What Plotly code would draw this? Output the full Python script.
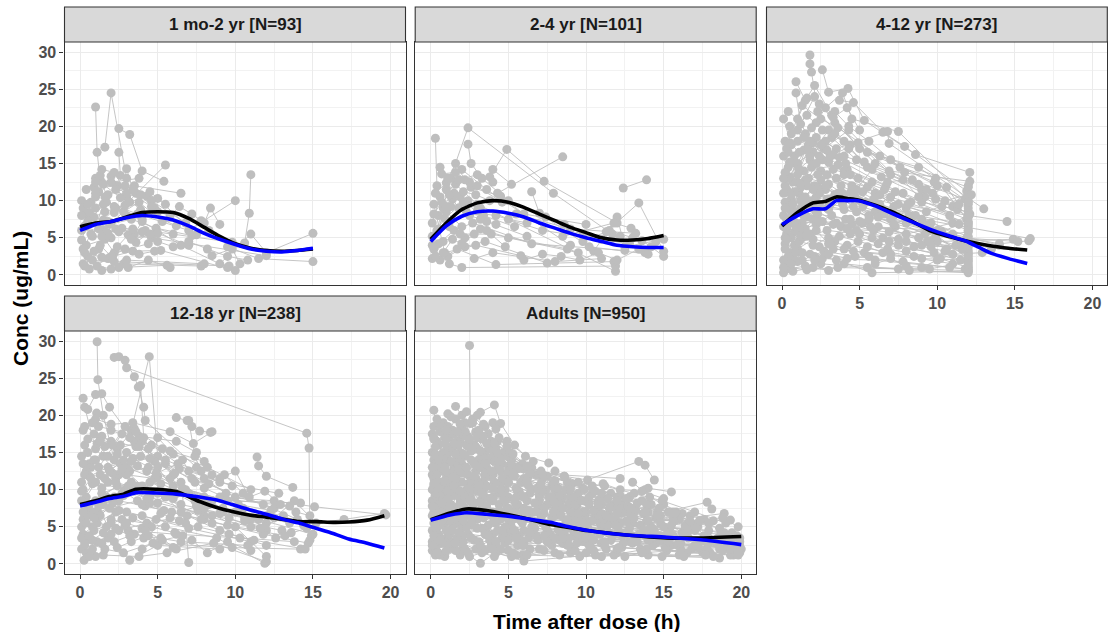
import plotly.graph_objects as go

# ---------------- data ----------------
PANEL_TITLES = ["1 mo-2 yr [N=93]", "2-4 yr [N=101]", "4-12 yr [N=273]",
                "12-18 yr [N=238]", "Adults [N=950]"]

X_TICKS = [0, 5, 10, 15, 20]
Y_TICKS = [0, 5, 10, 15, 20, 25, 30]

# individual profiles: (time h, conc ug/mL)
SUBJ_1MO_2YR = [
    [(0.1,10.0),(0.5,8.2),(1.5,6.1)],
    [(0.1,4.7),(0.4,6.5),(2.0,5.0)],
    [(1.0,22.6),(1.1,16.5),(1.3,12.8),(2.2,8.4)],
    [(1.6,17.2),(2.0,24.5),(3.0,13.0)],
    [(2.5,19.7),(3.2,18.9),(4.0,14.0),(5.4,12.6)],
    [(2.5,16.5),(2.6,13.4),(3.6,11.0)],
    [(0.2,1.5),(0.8,2.0),(2.8,1.5),(7.8,1.2)],
    [(0.6,8.4),(1.2,11.2),(2.0,13.3),(3.0,10.5)],
    [(0.8,5.2),(1.5,9.5),(2.4,12.0),(4.8,9.0)],
    [(0.3,6.6),(1.0,9.0),(1.8,10.8),(3.5,12.0),(6.5,11.0)],
    [(1.2,3.5),(1.9,6.8),(3.3,7.5),(6.0,5.5)],
    [(0.5,2.5),(1.4,0.6),(2.5,1.0),(5.6,1.3)],
    [(1.0,13.0),(1.5,12.2),(2.6,10.4),(4.5,11.2),(5.5,9.5)],
    [(2.0,7.0),(2.8,8.5),(3.8,9.8),(5.3,7.2),(7.8,7.3)],
    [(0.4,4.0),(1.6,4.8),(2.2,3.0),(4.4,4.2)],
    [(3.0,14.3),(3.4,11.5),(5.0,10.3),(7.5,5.4)],
    [(0.1,6.0),(0.9,7.8),(1.6,8.5),(2.9,9.4),(5.5,14.8)],
    [(1.1,1.2),(2.0,0.8),(3.0,2.0),(8.0,1.5)],
    [(0.7,9.8),(1.3,13.4),(2.3,11.5),(3.9,8.8),(6.2,6.6)],
    [(1.8,5.6),(2.7,6.3),(4.2,6.0),(9.8,4.4)],
    [(2.4,3.8),(3.1,5.4),(4.6,5.0),(12.0,2.6)],
    [(0.5,7.2),(1.7,9.8),(3.7,8.2),(7.0,6.0),(10.0,10.0)],
    [(3.5,5.5),(4.0,7.2),(6.5,4.0),(9.5,1.0)],
    [(2.1,2.5),(3.4,3.2),(5.2,3.3),(10.0,0.6)],
    [(10.6,4.3),(10.9,8.3),(11.0,13.5)],
    [(9.0,1.5),(11.0,5.5),(12.0,3.0),(15.0,5.6)],
    [(9.5,3.8),(11.5,2.2),(15.0,1.8)],
    [(8.5,2.6),(9.8,3.5),(10.3,1.5)],
    [(0.3,3.0),(1.4,2.4),(2.2,1.8),(9.6,1.2)],
    [(1.5,7.4),(2.3,9.0),(3.2,9.8),(4.3,10.6)],
    [(0.9,11.8),(2.9,12.0),(4.6,10.0),(6.8,7.0)],
    [(3.6,4.4),(4.9,6.3),(7.2,5.3),(8.3,6.0)],
    [(0.2,9.0),(1.0,10.5),(2.0,12.5),(3.8,13.0)],
    [(0.6,0.8),(1.8,2.2),(3.1,1.0),(4.4,2.0),(5.8,1.0)],
    [(1.4,5.2),(2.3,6.2),(3.3,4.8),(5.0,5.6),(7.0,4.0)],
    [(0.1,8.0),(0.5,9.5),(1.0,11.0),(1.6,10.5),(2.2,9.2),(3.0,8.0),(4.0,7.5)],
    [(0.2,3.5),(0.7,5.5),(1.2,6.2),(1.8,7.2),(2.5,5.8),(3.4,6.2),(4.5,5.5)],
    [(0.3,1.2),(0.9,3.2),(1.3,4.0),(2.0,2.5),(2.9,3.5),(3.8,2.8),(4.8,3.2)],
    [(0.4,11.5),(1.0,12.5),(1.4,14.2),(2.2,13.8),(3.0,11.0),(3.9,10.8),(4.6,9.2)],
    [(5.0,8.5),(5.8,8.0),(6.4,9.2),(7.2,8.2),(8.0,7.0),(8.4,9.0),(9.0,6.8)],
    [(4.0,5.8),(5.0,4.5),(6.0,3.8),(7.0,4.5),(8.2,3.5),(9.5,2.5),(10.8,2.0)],
]

SUBJ_2_4YR = [
    [(0.3,18.4),(0.4,12.0),(1.0,8.5),(2.0,6.5)],
    [(1.0,11.5),(2.4,19.8),(7.9,11.0),(11.7,5.5)],
    [(2.4,17.6),(2.6,15.0),(3.3,13.0),(5.0,10.0)],
    [(3.8,13.2),(4.9,16.9),(7.3,12.6),(12.0,7.0)],
    [(4.3,11.0),(8.5,15.9)],
    [(12.4,11.7),(13.9,12.8)],
    [(11.3,5.8),(13.4,9.7),(15.0,3.2)],
    [(0.1,7.0),(0.6,10.5),(1.6,12.2),(3.0,9.5),(11.9,0.5)],
    [(0.2,3.5),(1.2,1.5),(2.0,1.0),(11.9,1.2)],
    [(0.4,6.0),(1.3,13.0),(2.0,14.2),(3.6,11.5),(9.0,4.0)],
    [(0.8,9.0),(1.8,12.8),(3.0,13.5),(4.0,12.5)],
    [(0.5,4.2),(1.5,6.0),(2.7,7.0),(6.5,4.2),(12.5,3.3)],
    [(1.1,2.5),(2.2,3.8),(3.5,4.5),(7.5,1.6)],
    [(0.1,5.2),(0.9,7.6),(2.1,9.8),(3.4,8.0),(5.4,6.5)],
    [(1.4,10.2),(2.6,11.8),(4.5,10.6),(6.0,8.2),(10.0,6.8)],
    [(2.2,5.0),(3.2,6.2),(5.0,5.0),(9.5,3.0)],
    [(0.3,11.0),(1.0,12.4),(1.9,10.5),(3.2,9.0)],
    [(2.8,2.2),(4.0,3.0),(8.0,1.8),(11.0,2.2)],
    [(0.6,2.0),(1.7,3.5),(4.2,1.4),(11.8,1.8)],
    [(1.2,6.5),(2.3,8.5),(4.2,8.0),(7.2,6.0),(12.8,4.2)],
    [(9.8,4.5),(11.5,6.0),(13.0,5.0),(14.5,4.5)],
    [(10.5,3.2),(12.0,7.8),(12.5,3.8),(15.0,4.8)],
    [(8.5,5.2),(11.8,7.0),(12.9,6.3),(13.8,3.0)],
    [(0.7,13.6),(1.6,13.8),(2.5,12.5),(4.6,9.8)],
    [(3.0,8.6),(5.5,8.2),(9.0,6.2),(13.2,5.6)],
    [(0.2,9.5),(0.9,3.0),(2.9,4.0),(5.8,2.6)],
    [(6.5,11.2),(7.0,8.3),(10.2,3.8),(14.0,2.8)],
    [(0.5,8.0),(1.3,9.2),(2.4,10.0),(3.6,7.2),(6.2,5.2)],
    [(0.1,2.2),(0.8,4.5),(1.9,5.5),(3.9,5.5),(8.8,3.5)],
    [(13.6,4.6),(14.2,3.8),(15.0,2.5)],
    [(0.1,4.0),(0.5,6.2),(1.0,9.2),(1.5,11.0),(2.1,11.2),(2.9,10.8),(3.8,10.0)],
    [(0.2,8.2),(0.7,9.8),(1.2,10.8),(1.8,9.0),(2.5,8.0),(3.2,7.5),(4.2,6.8)],
    [(0.3,2.5),(0.8,3.0),(1.4,4.8),(2.0,4.2),(2.8,5.5),(3.6,6.0),(4.8,3.8)],
    [(0.6,14.5),(1.1,13.0),(1.6,15.0),(2.2,12.8),(3.0,12.0),(4.0,14.2),(5.2,12.2)],
    [(5.0,7.5),(6.2,7.0),(7.4,7.8),(8.6,6.8),(9.8,5.5),(11.0,4.8),(12.2,5.2)],
    [(6.0,2.0),(7.2,2.8),(8.4,2.5),(9.6,2.0),(10.8,3.0),(12.0,2.0),(13.4,3.5)],
]

SUBJ_4_12YR = [
    [(0.1,21.0),(0.6,17.5),(1.5,19.0),(3.0,15.2),(6.0,11.0),(12.0,6.0)],
    [(0.9,24.5),(1.2,20.3),(2.0,17.8),(4.0,14.0),(8.0,9.0),(12.0,4.5)],
    [(1.8,29.6),(1.8,28.4),(1.9,27.3),(2.3,22.0),(5.5,14.5),(12.1,8.2)],
    [(2.6,27.6),(3.0,24.6),(4.25,25.1),(5.3,20.8),(8.6,16.2),(12.1,13.8)],
    [(3.7,23.5),(4.6,23.2),(6.5,19.2),(7.9,17.3),(11.9,11.3)],
    [(0.2,12.0),(0.8,16.0),(2.2,18.5),(3.5,17.0),(6.8,19.3),(6.9,17.7),(13.0,8.9)],
    [(0.1,8.0),(1.0,12.5),(2.5,14.0),(4.5,12.0),(7.5,9.5),(14.5,7.2)],
    [(0.3,5.5),(1.2,9.0),(2.8,11.5),(5.0,10.0),(9.0,7.5),(16.0,4.9)],
    [(0.5,3.0),(1.5,6.2),(3.2,8.0),(6.2,6.5),(10.0,4.5),(14.9,4.8)],
    [(0.2,1.5),(1.0,3.5),(2.0,4.8),(4.2,4.0),(8.5,2.5),(12.9,3.0)],
    [(0.1,0.3),(0.7,2.2),(1.8,2.8),(3.5,2.0),(5.8,0.3),(12.0,0.5)],
    [(0.4,14.5),(1.4,16.8),(2.9,13.5),(5.5,11.8),(8.2,8.0),(12.0,5.2)],
    [(0.6,10.2),(1.9,14.5),(3.3,16.2),(4.9,13.0),(7.0,10.5),(12.0,7.0)],
    [(0.3,7.5),(1.1,11.0),(2.4,9.5),(4.0,8.8),(9.5,6.0),(12.0,2.2)],
    [(0.8,4.0),(2.0,7.5),(3.8,6.5),(6.5,5.0),(10.5,3.2),(12.0,1.2)],
    [(1.3,2.0),(2.7,3.2),(4.7,2.5),(7.8,1.8),(11.8,0.8)],
    [(0.2,18.0),(1.6,21.5),(2.6,19.5),(4.4,17.5),(9.8,12.5),(12.0,9.5)],
    [(1.0,19.5),(2.1,24.0),(3.4,20.5),(6.0,15.0),(10.5,10.0),(12.0,10.8)],
    [(0.5,9.0),(1.7,13.0),(3.0,12.2),(5.2,9.2),(8.0,7.0),(13.5,3.5)],
    [(0.1,6.5),(0.9,8.5),(2.2,10.5),(3.9,11.0),(7.2,8.0),(12.0,3.8)],
    [(0.7,12.5),(1.4,14.0),(3.6,14.8),(5.8,12.5),(9.0,9.8),(12.0,8.5)],
    [(0.4,2.5),(1.3,5.0),(2.9,6.0),(5.0,5.5),(7.5,4.0),(11.5,2.0)],
    [(0.2,4.2),(1.6,7.8),(3.1,9.5),(6.0,8.5),(9.2,5.5),(12.0,3.0)],
    [(1.1,6.0),(2.3,8.2),(4.1,7.5),(8.8,5.0),(12.0,2.8)],
    [(0.3,11.5),(0.9,15.0),(2.0,16.5),(3.2,18.5),(4.8,15.5),(9.0,11.5)],
    [(2.2,20.5),(2.8,22.5),(3.9,24.5),(4.5,21.0),(7.5,19.3),(12.0,10.0)],
    [(0.6,19.0),(1.3,22.8),(2.5,21.0),(3.6,19.8),(6.3,16.0),(10.0,12.0)],
    [(0.9,26.0),(1.5,23.5),(2.1,25.5),(3.2,21.5),(5.0,17.0),(12.0,11.8)],
    [(0.1,16.0),(0.5,13.2),(1.8,15.5),(4.2,14.2),(7.8,11.0),(11.9,7.5)],
    [(0.3,0.8),(1.5,1.2),(2.5,1.5),(5.5,1.0),(9.5,0.8),(12.0,1.8)],
    [(0.2,3.5),(0.8,5.8),(2.2,6.8),(4.5,6.8),(8.0,4.5),(12.0,3.3)],
    [(1.2,10.0),(2.5,12.8),(4.0,13.5),(6.6,11.5),(10.8,8.0),(12.0,6.5)],
    [(0.5,7.0),(1.9,10.0),(3.4,10.8),(5.6,8.0),(9.9,5.2),(15.2,4.5)],
    [(0.4,16.5),(1.0,18.0),(2.7,17.0),(4.3,19.5),(6.9,14.0),(12.1,12.6)],
    [(1.6,12.0),(2.6,15.5),(3.5,13.0),(5.9,10.2),(9.3,8.5),(12.2,10.8)],
    [(0.7,0.5),(2.0,1.0),(3.0,0.6),(4.0,1.5),(8.2,0.6),(12.0,0.3)],
    [(0.1,2.0),(1.1,4.5),(2.4,3.8),(4.6,3.2),(7.0,2.8),(11.0,1.5)],
    [(0.6,5.0),(1.8,5.5),(3.7,5.2),(6.8,3.5),(10.2,2.2),(12.0,1.0)],
    [(1.4,8.0),(2.9,9.0),(4.8,8.5),(7.3,6.5),(11.2,4.0),(12.0,4.8)],
    [(0.2,9.8),(1.2,11.8),(2.3,13.5),(3.8,12.0),(6.0,9.8),(9.6,7.0)],
    [(0.4,13.0),(1.7,17.5),(3.1,16.0),(4.9,17.8),(7.0,13.5),(12.0,9.0)],
    [(0.9,3.0),(2.1,2.5),(3.3,3.5),(5.3,3.0),(9.0,2.2),(12.0,2.0)],
    [(0.3,6.2),(1.3,7.0),(2.6,7.2),(5.7,6.5),(10.0,6.0),(14.0,4.0)],
    [(1.0,15.0),(2.4,11.0),(3.9,9.5),(7.0,7.5),(11.0,5.5),(12.0,5.8)],
    [(0.5,20.0),(1.4,18.5),(2.8,18.0),(4.0,16.0),(8.4,12.8),(11.8,10.2)],
    [(2.0,4.0),(3.0,5.0),(4.4,5.5),(6.2,4.2),(9.8,3.0),(12.0,2.5)],
    [(0.1,11.0),(0.7,9.5),(2.3,11.8),(4.7,10.5),(8.6,8.0),(12.0,6.8)],
    [(1.6,9.5),(3.5,7.0),(5.0,7.2),(8.0,5.5),(11.0,7.0),(12.0,8.0)],
    [(0.2,5.0),(1.0,1.8),(2.6,2.2),(6.0,2.0),(10.8,1.0),(12.0,0.8)],
    [(1.8,16.0),(3.0,19.5),(4.0,18.0),(5.5,16.5),(8.8,14.5),(12.0,9.8)],
    [(0.6,8.5),(2.2,15.0),(3.7,15.8),(6.4,13.2),(9.2,10.5),(12.0,6.0)],
    [(0.9,7.0),(2.0,9.0),(3.4,4.5),(4.8,6.0),(9.6,3.8),(12.0,4.0)],
    [(3.4,22.0),(4.3,20.0),(5.6,18.0),(7.6,14.5),(9.9,13.0),(12.0,7.2)],
    [(0.3,17.0),(1.1,14.2),(1.9,19.8),(2.9,16.8),(4.1,15.0),(6.7,12.0)],
    [(11.9,5.0),(14.0,4.2),(15.9,4.6)],
    [(0.5,1.0),(1.6,0.7),(3.6,1.0),(7.5,0.8),(12.0,0.6)],
    [(0.2,13.8),(0.8,11.2),(1.5,12.8),(2.1,12.0),(3.0,10.2),(4.4,11.0),(6.4,8.8)],
    [(1.2,5.2),(2.2,6.0),(3.0,4.2),(4.2,6.2),(6.9,5.8),(9.4,4.5),(11.6,3.5)],
    [(0.1,13.0),(0.5,15.2),(1.0,13.5),(1.7,17.0),(2.4,16.0),(3.3,14.2),(4.4,13.5)],
    [(0.2,9.0),(0.6,10.8),(1.2,12.2),(2.0,11.5),(2.9,10.2),(3.9,9.8),(5.2,11.2)],
    [(0.3,4.8),(0.9,6.5),(1.6,5.2),(2.4,7.2),(3.3,6.8),(4.4,7.5),(5.9,6.0)],
    [(0.1,1.0),(0.6,1.5),(1.3,3.0),(2.1,2.0),(3.0,2.8),(4.2,2.2),(5.6,2.5)],
    [(0.4,22.0),(1.0,21.0),(1.6,23.8),(2.4,23.0),(3.3,21.2),(4.2,22.5),(5.0,19.5)],
    [(4.8,11.5),(5.8,14.2),(6.8,12.5),(7.8,12.8),(8.8,10.5),(9.9,10.2),(11.0,9.2)],
    [(5.2,7.0),(6.2,7.8),(7.2,6.8),(8.2,7.8),(9.2,6.8),(10.3,5.8),(11.4,6.8)],
    [(5.5,3.8),(6.5,3.0),(7.5,4.8),(8.5,3.8),(9.5,4.5),(10.6,3.5),(11.6,4.2)],
    [(6.0,1.5),(7.0,2.2),(8.0,1.2),(9.0,1.0),(10.0,2.0),(11.0,2.8),(12.0,1.5)],
    [(6.3,9.5),(7.3,11.2),(8.3,9.8),(9.3,11.5),(10.3,9.2),(11.3,8.8),(12.0,7.8)],
    [(2.8,12.0),(3.6,11.0),(4.5,11.5),(5.4,9.8),(6.3,10.8),(7.2,9.2),(8.1,9.5)],
    [(0.5,17.8),(1.1,16.5),(1.8,18.0),(2.5,17.5),(3.4,19.0),(4.3,17.0),(5.3,15.2)],
    [(3.1,4.2),(4.0,3.5),(4.9,4.5),(5.8,5.0),(6.9,4.5),(8.0,3.2),(9.0,4.0)],
    [(7.0,15.5),(7.9,13.8),(8.8,12.2),(9.7,11.0),(10.6,11.8),(11.4,9.5),(12.0,12.0)],
    [(1.5,10.5),(2.2,8.5),(3.0,8.8),(3.9,10.2),(4.6,9.2),(5.6,7.5),(6.6,8.2)],
]

SUBJ_12_18YR = [
    [(0.2,22.3),(0.3,21.1),(1.0,15.5),(2.5,12.0),(5.0,9.5),(8.0,6.0)],
    [(1.1,29.9),(1.15,24.8),(1.5,20.0),(2.2,14.0),(4.0,10.5)],
    [(2.2,27.8),(2.5,27.9),(3.0,26.4),(14.6,17.6),(14.75,15.6),(14.8,3.2)],
    [(2.9,27.4),(3.5,25.2),(3.75,23.8),(4.1,21.1),(4.2,19.3),(7.5,13.0)],
    [(3.3,18.0),(4.46,27.9),(5.0,14.5),(6.5,11.0),(6.8,5.5),(7.0,0.2)],
    [(0.5,20.8),(1.0,22.8),(1.4,22.9),(1.9,21.1),(3.5,16.5),(6.0,12.0)],
    [(1.07,20.3),(2.0,18.0),(3.2,17.0),(5.5,13.5),(8.0,10.2),(12.0,6.5)],
    [(6.2,19.7),(6.9,19.3),(7.2,18.5),(7.7,17.9),(8.4,17.7)],
    [(0.3,16.0),(1.2,18.5),(3.8,17.2),(6.2,16.5),(7.5,15.0),(8.5,12.0)],
    [(11.4,14.4),(11.5,13.2),(12.0,11.8),(13.7,10.3)],
    [(9.0,9.0),(12.5,8.5),(15.1,7.7),(19.7,6.6)],
    [(0.1,11.0),(0.6,13.5),(1.5,14.5),(3.0,13.0),(6.0,10.5),(9.5,8.5),(14.2,8.2)],
    [(0.2,6.0),(1.0,8.5),(2.4,10.5),(4.5,9.0),(8.0,6.5),(12.0,4.5)],
    [(0.26,0.5),(0.8,2.0),(1.8,3.5),(3.2,0.5),(5.0,2.5),(9.0,2.0)],
    [(0.1,2.0),(0.9,4.5),(2.7,6.0),(5.5,5.0),(8.8,3.5),(11.9,0.1)],
    [(0.4,9.0),(1.3,12.0),(2.6,13.5),(4.3,12.5),(6.8,10.0),(10.5,7.5)],
    [(0.7,13.0),(1.6,15.8),(3.0,15.0),(4.8,13.8),(7.2,11.5),(12.5,7.5)],
    [(0.2,4.0),(1.1,5.5),(2.3,7.0),(4.0,6.5),(7.0,4.8),(11.0,3.0)],
    [(0.5,7.5),(1.4,9.5),(3.3,11.0),(5.2,10.8),(8.3,8.0),(13.5,5.5)],
    [(0.9,17.5),(2.0,16.5),(3.6,15.8),(5.5,14.0),(9.0,11.0),(12.8,9.5)],
    [(0.3,3.0),(1.6,2.0),(2.8,1.5),(4.7,2.8),(9.8,2.2),(14.2,2.0)],
    [(0.1,8.5),(0.8,10.8),(2.1,12.2),(3.9,14.5),(6.4,12.8),(10.0,9.0)],
    [(1.2,6.8),(2.5,8.5),(4.2,7.8),(7.8,6.0),(11.8,4.0),(14.7,2.8)],
    [(0.6,11.8),(1.8,13.0),(3.4,14.2),(5.8,11.5),(9.2,7.0),(12.0,5.5)],
    [(0.4,1.5),(1.0,1.0),(2.2,3.0),(3.5,4.0),(6.5,3.0),(10.8,2.5)],
    [(1.3,17.0),(2.4,15.5),(4.0,16.5),(6.0,14.8),(8.2,13.0),(11.0,10.0)],
    [(0.2,13.5),(1.0,11.0),(2.9,10.0),(5.0,8.2),(8.5,6.5),(13.0,4.5)],
    [(0.8,5.0),(2.0,5.5),(3.1,4.5),(6.2,4.0),(10.3,3.5),(13.8,3.0)],
    [(1.5,8.0),(2.8,9.2),(4.5,11.0),(7.4,8.5),(11.5,6.0),(15.0,4.0)],
    [(0.1,5.0),(1.9,7.5),(3.7,8.5),(5.9,7.0),(9.5,5.2),(13.2,3.8)],
    [(2.3,11.5),(3.2,12.5),(4.4,13.0),(6.6,10.2),(10.2,8.0),(12.3,7.2)],
    [(0.3,18.5),(1.4,17.2),(2.6,16.0),(3.5,18.2),(5.3,15.5),(8.0,13.8)],
    [(0.6,1.0),(1.5,1.2),(3.8,1.0),(5.6,1.5),(8.6,2.8),(12.0,0.3)],
    [(1.7,9.0),(3.0,7.0),(4.9,6.0),(7.6,5.0),(11.2,3.2),(14.5,2.0)],
    [(0.5,15.0),(1.2,13.0),(2.7,17.5),(4.6,16.0),(7.0,12.5),(9.8,10.5)],
    [(1.0,19.5),(2.0,18.8),(3.4,19.0),(5.8,17.8),(7.3,16.2),(8.5,17.8)],
    [(10.0,7.0),(12.5,6.2),(13.8,8.5),(15.2,5.5),(17.0,6.0),(19.6,6.8)],
    [(0.2,10.0),(0.9,7.0),(2.2,9.0),(3.6,10.5),(6.5,8.0),(11.0,6.0)],
    [(0.4,12.5),(1.8,11.0),(3.0,12.0),(4.8,11.5),(8.0,9.0),(13.5,7.8)],
    [(1.1,3.0),(2.5,4.5),(4.3,5.5),(6.9,6.5),(9.0,4.5),(12.0,2.5)],
    [(3.9,24.0),(4.1,17.0),(5.0,13.0),(6.2,9.5),(10.0,5.0),(12.0,1.0)],
    [(7.0,19.3),(7.4,14.5),(8.0,11.5),(9.4,9.5),(11.8,8.0),(14.0,6.0)],
    [(0.1,3.5),(0.5,6.5),(1.2,7.8),(2.0,4.0),(2.9,5.2),(4.1,3.5),(5.8,6.2)],
    [(0.3,12.0),(0.9,14.0),(1.6,11.5),(2.4,14.8),(3.3,13.8),(4.5,14.2),(6.1,12.2)],
    [(7.8,8.8),(9.2,7.5),(10.6,6.2),(11.9,5.0),(13.1,6.5),(14.4,5.2),(14.9,3.8)],
    [(0.1,14.5),(0.5,16.8),(1.1,16.2),(1.8,14.5),(2.7,12.8),(3.7,13.2),(5.0,11.8)],
    [(0.2,7.0),(0.6,8.0),(1.3,6.5),(2.1,8.2),(3.0,9.5),(4.0,8.0),(5.4,7.2)],
    [(0.3,2.5),(0.8,3.2),(1.5,4.2),(2.4,2.2),(3.3,3.0),(4.4,3.8),(6.0,2.2)],
    [(0.1,9.8),(0.7,11.5),(1.4,10.2),(2.3,11.0),(3.1,10.5),(4.2,10.0),(5.6,9.2)],
    [(1.0,14.0),(1.9,12.5),(2.8,14.0),(3.8,15.8),(4.9,12.2),(6.3,13.5),(7.8,12.5)],
    [(2.0,6.0),(3.0,5.5),(4.0,4.8),(5.2,6.8),(6.4,5.8),(7.6,7.2),(9.0,6.8)],
    [(4.5,8.2),(5.5,9.0),(6.5,7.0),(7.5,7.8),(8.5,8.5),(9.6,6.2),(11.0,5.0)],
    [(4.0,2.0),(5.2,3.5),(6.2,2.0),(7.2,3.2),(8.2,1.5),(9.5,3.0),(11.0,1.8)],
    [(5.0,17.0),(5.8,15.2),(6.6,14.0),(7.4,11.0),(8.3,10.8),(9.3,12.0),(10.5,9.5)],
    [(8.5,5.5),(9.6,4.0),(10.6,5.8),(11.6,4.8),(12.6,3.5),(13.6,4.2),(14.6,4.8)],
    [(9.0,11.5),(10.0,12.5),(10.9,9.0),(11.9,9.8),(12.9,8.0),(13.9,7.0),(14.8,6.5)],
    [(0.4,5.5),(0.9,6.2),(1.7,5.0),(2.5,7.2),(3.4,6.2),(4.6,5.0),(6.1,4.2)],
    [(0.2,18.0),(0.8,19.0),(1.3,16.5),(2.1,16.0),(2.9,18.5),(3.6,17.8),(4.4,15.5)],
    [(2.7,9.5),(3.5,9.8),(4.3,8.8),(5.1,9.8),(6.0,8.8),(7.0,9.5),(8.0,7.5)],
    [(0.6,3.8),(1.4,2.8),(2.3,4.8),(3.2,3.8),(4.2,4.5),(5.3,3.2),(6.6,3.8)],
]

SUBJ_ADULTS = [
    [(0.2,20.7),(0.5,16.0),(1.5,13.0),(3.0,10.5),(6.0,7.5),(12.0,4.0)],
    [(1.6,21.2),(2.0,20.0),(3.0,15.5),(5.0,12.0),(8.0,8.0),(14.0,4.5)],
    [(2.5,29.4),(2.55,18.9),(3.5,15.0),(6.0,11.5),(10.0,7.0),(18.0,3.0)],
    [(3.2,20.4),(4.1,21.4),(4.5,18.9),(5.4,16.0),(6.1,14.5),(7.6,13.6)],
    [(0.1,17.5),(0.8,15.0),(1.9,16.5),(3.8,14.0),(8.6,11.8),(10.1,11.3)],
    [(0.1,12.0),(0.6,14.5),(1.2,17.0),(2.3,16.0),(4.5,12.5),(12.2,11.5)],
    [(0.3,9.5),(1.0,11.5),(2.0,13.5),(4.0,12.0),(7.0,9.0),(13.4,13.8),(13.8,13.3),(14.4,11.3)],
    [(0.2,7.0),(1.2,9.0),(2.8,10.5),(5.5,9.0),(9.5,6.5),(14.0,10.2),(15.5,9.7)],
    [(0.4,5.0),(1.4,7.5),(3.2,8.5),(6.5,7.0),(11.0,5.0),(17.8,8.3),(18.1,7.4)],
    [(0.1,3.0),(0.9,5.5),(2.5,6.5),(5.0,6.0),(10.0,4.5),(18.9,6.8),(19.3,5.9)],
    [(0.5,1.5),(1.5,2.5),(3.2,0.1),(4.5,2.0),(9.0,1.5),(18.6,0.8),(18.8,1.8)],
    [(0.3,1.2),(2.0,1.8),(4.2,1.5),(6.0,0.4),(12.0,1.5),(16.0,1.2)],
    [(0.2,14.0),(1.1,12.0),(2.2,14.5),(3.6,13.0),(5.8,11.0),(9.0,8.5),(13.0,6.0)],
    [(0.6,11.0),(1.6,13.8),(2.9,12.5),(4.8,10.0),(7.5,8.0),(11.5,6.5),(16.5,4.0)],
    [(0.1,8.5),(0.7,10.5),(1.8,11.0),(3.4,10.0),(6.2,8.5),(10.5,6.0),(15.0,3.5)],
    [(0.3,6.0),(1.3,8.0),(2.6,8.8),(4.4,8.0),(8.0,6.5),(12.5,4.2),(19.0,2.5)],
    [(0.5,4.0),(1.7,5.5),(3.0,6.0),(5.2,5.0),(9.2,3.8),(14.5,2.8),(20.0,2.0)],
    [(0.2,2.2),(1.0,3.5),(2.4,4.0),(4.6,3.5),(8.5,2.8),(13.5,2.0),(18.0,1.5)],
    [(0.8,19.0),(1.4,18.0),(2.7,19.5),(3.7,17.5),(5.0,14.5),(7.8,10.5),(11.0,8.0)],
    [(0.4,16.5),(1.2,15.5),(2.1,18.0),(3.3,16.8),(4.7,15.0),(6.8,12.0),(9.5,9.5)],
    [(0.9,13.0),(1.9,15.0),(3.1,14.0),(4.2,15.5),(6.5,13.0),(9.8,10.2),(12.8,9.0)],
    [(0.2,10.5),(1.5,12.5),(2.9,11.5),(5.0,11.0),(8.2,9.5),(12.0,7.5),(15.8,6.0)],
    [(0.6,7.5),(1.8,9.5),(3.5,9.0),(5.6,8.0),(9.0,7.0),(13.0,5.5),(17.0,4.5)],
    [(0.3,4.5),(1.1,6.5),(2.2,7.5),(4.0,7.0),(7.2,5.5),(11.2,4.8),(16.0,3.0)],
    [(0.1,1.8),(1.4,3.0),(2.8,3.2),(5.6,2.5),(10.2,2.5),(15.2,1.8),(19.5,1.2)],
    [(0.7,2.8),(2.2,2.0),(3.9,2.5),(7.0,2.0),(11.8,1.2),(16.8,2.0),(19.8,2.8)],
    [(1.0,16.0),(2.0,17.2),(2.9,17.8),(4.3,16.5),(5.9,13.5),(8.8,11.0),(12.2,9.2)],
    [(0.2,18.5),(0.9,17.0),(1.6,19.5),(2.3,20.5),(3.5,18.5),(4.9,16.5),(6.6,13.8)],
    [(0.5,12.8),(1.3,10.0),(2.4,12.0),(4.1,11.0),(7.0,10.5),(10.8,8.5),(14.6,7.0)],
    [(0.3,8.0),(1.6,7.0),(3.3,7.5),(5.4,6.5),(8.8,5.2),(13.8,4.0),(18.5,3.5)],
    [(0.8,5.8),(2.0,4.8),(3.7,5.2),(6.0,4.5),(10.5,3.2),(15.5,2.5),(19.2,2.2)],
    [(0.1,15.0),(1.0,13.5),(2.6,15.2),(4.0,14.5),(6.3,11.8),(9.3,9.0),(14.8,6.5)],
    [(1.2,10.5),(2.3,10.0),(3.9,11.8),(5.7,9.8),(8.4,8.5),(12.5,7.0),(17.2,5.0)],
    [(0.4,2.5),(1.9,1.2),(3.5,1.8),(5.9,1.2),(9.6,1.0),(14.0,1.2),(18.2,1.0)],
    [(0.6,3.5),(2.1,3.0),(4.3,2.2),(7.6,3.0),(12.3,2.2),(17.5,1.6),(19.9,1.5)],
    [(2.0,8.0),(3.0,9.8),(4.4,9.5),(6.9,7.8),(10.0,6.0),(14.2,5.0),(19.6,3.2)],
    [(1.5,6.0),(2.8,7.0),(4.9,7.5),(7.8,6.2),(11.5,5.5),(16.2,4.2),(19.4,4.0)],
    [(0.2,11.5),(0.7,12.5),(1.7,12.0),(3.0,12.8),(5.3,12.0),(8.0,10.0),(11.8,8.0)],
    [(0.3,13.5),(1.8,14.2),(3.8,15.5),(5.5,13.0),(7.9,11.0),(10.6,9.8),(13.3,8.2)],
    [(0.9,9.0),(2.5,9.5),(4.7,8.8),(6.4,9.5),(9.4,7.8),(12.9,6.5),(16.8,5.5)],
    [(0.1,6.5),(1.4,5.0),(3.6,4.2),(6.7,4.8),(10.9,4.0),(15.0,3.0),(18.8,2.5)],
    [(0.5,8.8),(1.2,4.0),(2.7,5.2),(5.1,4.0),(8.2,3.5),(12.8,3.0),(17.8,2.0)],
    [(1.1,14.8),(2.2,12.8),(3.4,11.0),(5.5,10.2),(8.5,9.0),(12.3,8.0),(15.6,7.0)],
    [(0.4,10.0),(1.5,10.8),(3.2,13.0),(4.5,10.8),(7.4,10.0),(11.0,9.0),(14.2,8.0)],
    [(2.0,3.8),(3.3,4.8),(5.8,5.8),(9.0,4.8),(13.0,3.8),(17.4,3.0),(19.7,2.6)],
    [(0.2,5.5),(0.8,7.2),(2.1,6.0),(3.9,6.5),(6.6,5.8),(11.3,6.2),(16.4,5.2)],
    [(1.3,19.8),(2.4,17.0),(3.1,18.0),(4.0,19.0),(5.2,14.0),(7.1,12.5),(10.4,10.5)],
    [(0.6,17.8),(1.7,16.5),(2.8,16.0),(4.6,13.5),(6.0,12.8),(9.1,10.8),(13.6,8.5)],
    [(0.3,15.8),(1.1,18.5),(2.2,13.0),(3.7,16.0),(5.0,13.2),(7.5,11.8),(11.6,9.5)],
    [(5.5,7.0),(7.3,7.5),(9.8,7.0),(12.6,5.8),(15.4,4.8),(17.9,4.5),(19.9,3.5)],
    [(4.8,5.0),(6.2,6.2),(8.7,5.8),(11.4,5.2),(14.4,4.5),(16.6,3.5),(19.1,3.0)],
    [(6.0,3.0),(7.7,4.0),(10.3,3.0),(13.2,3.5),(15.9,2.5),(18.4,2.8),(19.8,1.8)],
    [(3.0,2.0),(5.2,1.0),(8.0,1.5),(11.0,1.0),(13.9,2.0),(16.5,1.5),(19.3,1.2)],
    [(7.0,9.5),(8.9,8.0),(10.7,7.2),(12.0,9.0),(14.0,7.0),(16.0,6.0),(18.6,4.8)],
    [(8.0,12.5),(9.5,11.0),(11.2,10.5),(13.1,9.5),(14.9,8.5),(17.0,7.0),(19.0,5.5)],
    [(6.5,10.0),(8.3,9.2),(10.0,8.5),(11.9,8.0),(13.7,6.8),(15.7,5.8),(18.2,5.8)],
    [(5.0,9.0),(7.0,8.5),(9.0,6.0),(11.0,6.8),(13.5,5.2),(16.4,4.8),(19.4,4.2)],
    [(4.0,4.0),(6.3,3.5),(8.8,2.5),(11.6,3.2),(14.7,3.6),(17.2,2.2),(19.6,1.8)],
    [(0.1,10.0),(0.4,12.0),(1.0,14.2),(1.8,16.0),(2.6,14.0),(3.5,11.8),(4.3,12.8)],
    [(0.2,16.8),(0.6,18.8),(1.5,17.5),(2.2,19.0),(3.0,20.0),(3.9,16.5),(5.1,15.0)],
    [(0.3,2.0),(0.9,1.0),(1.6,1.8),(2.5,1.0),(3.3,1.5),(4.1,1.0),(5.0,1.8)],
    [(0.5,6.8),(1.2,5.8),(1.9,8.5),(2.6,5.5),(3.4,6.2),(4.2,5.5),(5.3,7.0)],
    [(0.2,8.0),(0.9,9.8),(1.5,9.2),(2.4,10.8),(3.2,8.2),(4.0,9.0),(5.5,8.0)],
    [(0.4,3.5),(1.0,4.5),(1.7,3.5),(2.3,5.0),(3.1,3.0),(4.3,4.5),(5.7,3.8)],
    [(6.1,11.0),(7.2,11.5),(8.2,10.2),(9.3,8.0),(10.4,9.5),(11.5,7.5),(12.7,7.8)],
    [(6.8,7.0),(7.9,8.5),(9.2,6.8),(10.6,6.5),(11.9,6.0),(13.2,7.2),(14.5,6.2)],
    [(7.4,5.0),(8.6,4.2),(9.7,5.2),(10.9,5.5),(12.1,4.5),(13.4,4.0),(15.2,4.0)],
    [(6.4,2.0),(7.8,2.5),(9.1,2.0),(10.5,1.8),(12.4,2.8),(14.3,2.5),(16.1,2.0)],
    [(13.0,11.0),(14.1,9.0),(15.0,8.0),(16.2,6.8),(17.6,6.0),(18.8,6.2),(19.8,5.0)],
    [(13.8,10.0),(14.8,5.5),(15.8,7.0),(16.9,5.2),(17.9,5.5),(18.9,4.2),(19.7,3.8)],
    [(14.6,6.5),(15.6,3.8),(16.6,4.5),(17.6,3.8),(18.7,3.2),(19.5,2.8),(19.9,3.0)],
    [(8.6,11.8),(9.9,10.0),(11.1,10.8),(12.2,10.0),(13.6,9.8),(15.0,8.8)],
    [(0.1,4.5),(0.3,7.5),(0.7,9.0),(1.3,11.5),(2.0,11.0),(2.8,13.5),(3.6,10.5)],
    [(0.2,12.8),(0.8,14.0),(1.4,15.5),(2.1,14.8),(2.9,15.8),(3.7,14.0),(4.6,11.5)],
    [(0.6,1.2),(1.3,2.2),(2.0,2.8),(2.9,2.0),(3.8,3.2),(4.8,2.8),(6.0,2.5)],
    [(4.2,3.0),(5.0,4.0),(5.8,3.2),(6.8,3.8),(7.7,2.8),(8.9,3.5),(9.9,3.0)],
    [(3.8,7.0),(4.5,6.0),(5.4,8.5),(6.3,7.2),(7.3,6.8),(8.4,6.5),(9.6,6.0)],
    [(2.2,17.8),(3.0,17.0),(3.6,16.2),(4.4,17.0),(5.3,14.8),(6.2,13.2),(7.2,12.0)],
    [(1.1,20.2),(1.9,18.8),(2.7,19.0),(3.4,17.2),(4.2,18.2),(4.9,15.8)],
    [(0.4,19.5),(0.9,16.2),(1.6,14.8),(2.4,15.8),(3.3,14.5),(4.1,13.8),(5.0,12.5)],
    [(10.0,1.5),(11.3,2.0),(12.5,1.0),(13.6,1.5),(14.9,1.0),(16.3,1.0),(17.7,1.2)],
    [(9.0,10.5),(10.2,9.0),(11.4,8.8),(12.6,8.8),(13.9,8.0),(15.3,7.0),(16.7,6.5)],
    [(0.3,9.2),(1.0,8.0),(1.7,10.0),(2.5,10.2),(3.3,9.5),(4.5,10.0),(5.6,9.8)],
    [(5.5,4.0),(6.5,5.0),(7.5,4.5),(8.4,5.0),(9.4,4.2),(10.3,4.0),(11.7,3.8)],
    [(0.1,13.0),(0.5,11.0),(1.1,9.8),(1.8,12.8),(2.6,11.2),(3.5,12.2),(4.8,9.2)],
    [(0.2,3.8),(0.6,5.2),(1.2,6.8),(1.9,6.5),(2.7,8.0),(3.6,7.8),(4.6,6.8)],
    [(8.1,7.2),(9.3,5.5),(10.8,7.8),(12.3,6.8),(13.9,5.8),(15.6,6.0),(17.3,5.8)],
    [(5.9,5.5),(7.1,6.2),(8.3,3.2),(9.6,3.8),(11.0,2.8),(12.6,4.0),(14.1,3.2)],
    [(0.1,7.8),(0.4,9.5),(0.9,11.2),(1.5,10.5),(2.2,9.0),(3.0,11.0),(4.0,8.5)],
    [(0.2,6.2),(0.7,8.2),(1.2,7.5),(1.9,9.8),(2.8,8.2),(3.8,8.8),(5.0,7.5)],
    [(0.3,5.0),(0.8,6.0),(1.4,4.5),(2.1,5.8),(3.0,4.8),(4.1,5.8),(5.4,4.5)],
    [(0.1,2.5),(0.6,3.2),(1.1,2.5),(1.8,4.2),(2.6,3.5),(3.5,4.0),(4.7,3.8)],
    [(0.4,1.5),(1.0,1.8),(1.6,2.8),(2.4,1.5),(3.2,2.5),(4.0,2.0),(5.5,1.2)],
    [(0.2,10.8),(0.6,13.2),(1.3,13.8),(2.0,12.2),(2.8,11.8),(3.9,12.5),(5.0,11.0)],
    [(0.3,14.8),(0.9,13.0),(1.5,16.2),(2.3,17.2),(3.2,15.2),(4.1,16.2),(5.6,12.8)],
    [(4.5,14.2),(5.4,11.8),(6.3,10.5),(7.2,9.8),(8.1,8.0),(9.0,9.2),(10.2,8.0)],
    [(4.8,8.5),(5.8,9.2),(6.7,8.2),(7.6,9.0),(8.5,7.5),(9.4,6.2),(10.5,7.2)],
    [(5.2,5.8),(6.0,7.0),(7.0,5.8),(7.9,7.0),(8.8,6.0),(9.8,5.5),(11.1,6.0)],
    [(5.0,3.2),(5.9,2.5),(6.9,3.2),(7.9,3.5),(8.9,2.5),(10.0,3.5),(11.2,2.5)],
    [(5.3,1.5),(6.2,1.2),(7.3,1.8),(8.3,1.2),(9.3,1.8),(10.6,1.2),(12.0,2.0)],
    [(6.0,9.0),(6.9,10.2),(7.8,9.0),(8.7,10.0),(9.7,8.5),(10.8,8.0),(12.0,6.8)],
    [(9.5,6.8),(10.4,5.8),(11.3,6.5),(12.2,5.5),(13.1,6.2),(14.0,5.8),(15.0,5.0)],
    [(9.2,4.5),(10.1,5.0),(11.0,4.2),(11.9,5.2),(12.8,4.8),(13.7,4.5),(14.8,3.8)],
    [(9.4,2.8),(10.3,2.2),(11.2,3.0),(12.1,2.2),(13.0,2.8),(14.0,3.2),(15.1,2.2)],
    [(11.0,9.5),(12.0,8.5),(12.9,7.5),(13.8,7.0),(14.7,7.5),(15.7,6.8),(16.7,5.8)],
    [(15.5,5.2),(16.3,4.0),(17.1,4.8),(17.9,3.5),(18.7,4.0),(19.4,3.5),(19.9,2.5)],
    [(15.3,3.0),(16.1,2.8),(17.0,2.5),(17.8,2.8),(18.6,2.0),(19.3,2.0),(19.8,1.2)],
    [(1.0,18.0),(1.7,17.8),(2.5,16.8),(3.4,18.8),(4.3,14.8),(5.2,13.5),(6.4,12.2)],
    [(0.5,10.2),(1.1,8.8),(1.8,7.8),(2.5,8.5),(3.4,6.8),(4.4,7.2),(5.5,6.2)],
    [(2.9,6.5),(3.7,3.8),(4.6,4.5),(5.5,3.5),(6.4,4.2),(7.3,3.8),(8.2,4.6)],
    [(0.2,17.0),(0.5,14.0),(1.0,12.5),(1.6,11.5),(2.3,13.0),(3.1,10.5),(4.0,10.2)],
    [(3.5,13.5),(4.4,13.8),(5.3,12.2),(6.2,11.2),(7.1,10.8),(8.0,11.2),(9.0,10.0)],
    [(7.5,3.0),(8.5,3.5),(9.5,4.0),(10.4,3.5),(11.4,4.2),(12.3,3.8),(13.3,3.0)],
]

# smooth curves (black and blue) per panel: time, conc
SM_T_1 = [0, 1, 2, 3, 4, 5, 6, 7, 8, 9, 10, 11, 12, 13, 14, 15]
SM_BLACK_1 = [6.5, 7.0, 7.2, 7.8, 8.4, 8.5, 8.4, 7.6, 6.4, 5.2, 4.2, 3.6, 3.3, 3.2, 3.3, 3.5]
SM_BLUE_1 = [6.0, 6.8, 7.2, 7.7, 8.0, 7.8, 7.4, 6.6, 5.6, 4.8, 4.1, 3.5, 3.2, 3.1, 3.3, 3.6]

SM_T_2 = [0, 1, 2, 3, 4, 5, 6, 7, 8, 9, 10, 11, 12, 13, 14, 15]
SM_BLACK_2 = [4.8, 7.0, 8.8, 9.7, 10.0, 9.8, 9.1, 8.2, 7.3, 6.4, 5.7, 5.0, 4.7, 4.7, 4.9, 5.3]
SM_BLUE_2 = [4.5, 6.6, 7.9, 8.5, 8.6, 8.3, 7.8, 7.0, 6.3, 5.6, 5.0, 4.5, 4.0, 3.8, 3.7, 3.7]

SM_T_3 = [0, 1, 2, 2.8, 3.5, 4.2, 4.9, 6, 7, 8.3, 9.6, 10.7, 11.8, 12.7, 13.5, 14.6, 15.8]
SM_BLACK_3 = [6.6, 8.4, 9.7, 9.9, 10.5, 10.3, 10.1, 9.4, 8.6, 7.3, 5.9, 5.2, 4.6, 4.2, 3.9, 3.6, 3.35]
SM_BLUE_3 = [6.8, 8.0, 8.9, 8.9, 10.0, 10.0, 10.0, 9.3, 8.35, 7.2, 6.1, 5.3, 4.6, 3.7, 2.9, 2.2, 1.55]

SM_T_4 = [0, 1, 1.9, 2.8, 3.6, 4.9, 6.2, 7.7, 8.8, 9.8, 10.9, 12, 13.1, 14.1, 15.2, 16.3, 17.3, 18.5, 19.6]
SM_BLACK_4 = [8.0, 8.5, 9.07, 9.4, 10.06, 10.06, 9.75, 8.4, 7.6, 7.06, 6.6, 6.3, 6.0, 5.7, 5.7, 5.6, 5.65, 5.9, 6.5]
SM_BLUE_4 = [7.8, 8.3, 8.8, 9.1, 9.6, 9.55, 9.4, 9.0, 8.6, 8.0, 7.3, 6.7, 6.0, 5.5, 4.8, 4.1, 3.35, 2.8, 2.15]

SM_T_5 = [0, 1.25, 2.3, 3.6, 5.1, 6.4, 7.7, 8.9, 10.1, 12.6, 15.2, 17.4, 20]
SM_BLACK_5 = [5.95, 6.85, 7.4, 7.2, 6.6, 6.0, 5.3, 4.9, 4.5, 3.9, 3.5, 3.5, 3.7]
SM_BLUE_5 = [5.9, 6.6, 6.9, 6.7, 6.4, 6.0, 5.6, 5.0, 4.5, 3.9, 3.6, 3.25, 2.6]

# ---------------- layout helpers ----------------
W, H = 1108, 632
COLS = [(64.5, 405.5), (415.2, 756.2), (766.5, 1107.3)]
ROWS = [(42, 285), (331, 574)]
STRIP_H = 35
X_RANGE = [-1.0, 20.96]
Y_RANGE = [-1.35, 31.35]

GREY = "#BEBEBE"
FONT = "Liberation Sans, Arial, sans-serif"

panels = [
    (PANEL_TITLES[0], SUBJ_1MO_2YR, SM_T_1, SM_BLACK_1, SM_BLUE_1, 0, 0),
    (PANEL_TITLES[1], SUBJ_2_4YR, SM_T_2, SM_BLACK_2, SM_BLUE_2, 1, 0),
    (PANEL_TITLES[2], SUBJ_4_12YR, SM_T_3, SM_BLACK_3, SM_BLUE_3, 2, 0),
    (PANEL_TITLES[3], SUBJ_12_18YR, SM_T_4, SM_BLACK_4, SM_BLUE_4, 0, 1),
    (PANEL_TITLES[4], SUBJ_ADULTS, SM_T_5, SM_BLACK_5, SM_BLUE_5, 1, 1),
]

def px_x(p):
    return p / W

def px_y(p):
    return 1 - p / H

fig = go.Figure()
shapes = []
annotations = []
layout_axes = {}

for k, (title, subjects, st, sblack, sblue, c, r) in enumerate(panels, start=1):
    xs, ys = [], []
    for subj in subjects:
        for t, v in sorted(subj):
            xs.append(t)
            ys.append(v)
        xs.append(None)
        ys.append(None)
    xa = "x" if k == 1 else f"x{k}"
    ya = "y" if k == 1 else f"y{k}"
    fig.add_trace(go.Scatter(x=xs, y=ys, xaxis=xa, yaxis=ya, mode="lines+markers",
                             line=dict(color=GREY, width=0.9),
                             marker=dict(color=GREY, size=9, line=dict(width=0)),
                             hoverinfo="skip", showlegend=False))
    fig.add_trace(go.Scatter(x=st, y=sblack, xaxis=xa, yaxis=ya, mode="lines",
                             line=dict(color="black", width=3.6, shape="spline", smoothing=0.6),
                             showlegend=False))
    fig.add_trace(go.Scatter(x=st, y=sblue, xaxis=xa, yaxis=ya, mode="lines",
                             line=dict(color="#0000FF", width=3.6, shape="spline", smoothing=0.6),
                             showlegend=False))

    x0, x1 = COLS[c]
    y0, y1 = ROWS[r]
    show_x = (r == 1) or (c == 2)
    show_y = (c == 0)
    tickfont = dict(family=FONT, size=16, color="#4D4D4D", weight="bold")
    xkey = "xaxis" if k == 1 else f"xaxis{k}"
    ykey = "yaxis" if k == 1 else f"yaxis{k}"
    layout_axes[xkey] = dict(
        domain=[px_x(x0), px_x(x1)], anchor=ya, range=X_RANGE, autorange=False,
        tickmode="array", tickvals=X_TICKS, showticklabels=show_x,
        ticks="outside" if show_x else "", ticklen=4, tickwidth=1.1, tickcolor="#333333",
        tickfont=tickfont, showgrid=True, gridcolor="#EBEBEB", gridwidth=1.1,
        minor=dict(tickmode="array", tickvals=[2.5, 7.5, 12.5, 17.5], showgrid=True,
                   gridcolor="#F2F2F2", gridwidth=0.7, ticks=""),
        zeroline=False, showline=True, mirror=True, linecolor="#333333", linewidth=1.1,
        automargin=False, fixedrange=True)
    layout_axes[ykey] = dict(
        domain=[px_y(y1), px_y(y0)], anchor=xa, range=Y_RANGE, autorange=False,
        tickmode="array", tickvals=Y_TICKS, showticklabels=show_y,
        ticks="outside" if show_y else "", ticklen=4, tickwidth=1.1, tickcolor="#333333",
        tickfont=tickfont, showgrid=True, gridcolor="#EBEBEB", gridwidth=1.1,
        minor=dict(tickmode="array", tickvals=[2.5, 7.5, 12.5, 17.5, 22.5, 27.5], showgrid=True,
                   gridcolor="#F2F2F2", gridwidth=0.7, ticks=""),
        zeroline=False, showline=True, mirror=True, linecolor="#333333", linewidth=1.1,
        automargin=False, fixedrange=True)

    # strip
    shapes.append(dict(type="rect", xref="paper", yref="paper",
                       x0=px_x(x0), x1=px_x(x1), y0=px_y(y0), y1=px_y(y0 - STRIP_H),
                       fillcolor="#D9D9D9", line=dict(color="#333333", width=1.1), layer="above"))
    annotations.append(dict(text=title, xref="paper", yref="paper",
                            x=px_x((x0 + x1) / 2), y=px_y(y0 - STRIP_H / 2),
                            xanchor="center", yanchor="middle", showarrow=False,
                            font=dict(family=FONT, size=17, color="#1A1A1A", weight="bold")))

annotations.append(dict(text="Time after dose (h)", xref="paper", yref="paper",
                        x=px_x(586), y=px_y(621), xanchor="center", yanchor="middle",
                        showarrow=False,
                        font=dict(family=FONT, size=21, color="black", weight="bold")))
annotations.append(dict(text="Conc (ug/mL)", xref="paper", yref="paper",
                        x=px_x(20), y=px_y(299), xanchor="center", yanchor="middle",
                        textangle=-90, showarrow=False,
                        font=dict(family=FONT, size=21, color="black", weight="bold")))

fig.update_layout(
    width=W, height=H, template="none",
    margin=dict(l=0, r=0, t=0, b=0),
    paper_bgcolor="white", plot_bgcolor="white",
    showlegend=False, shapes=shapes, annotations=annotations,
    **layout_axes,
)

fig.write_html("out.html")
